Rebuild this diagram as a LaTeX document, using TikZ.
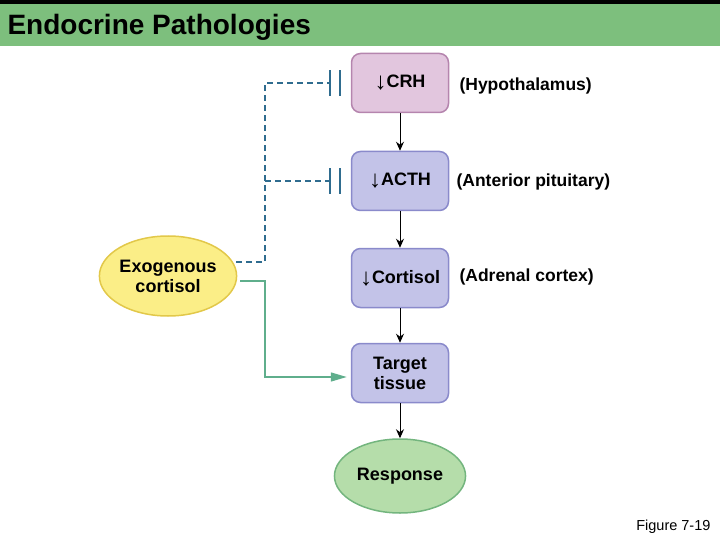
\documentclass[tikz,border=0pt]{standalone}
\usepackage{fontspec}
\setmainfont{Liberation Sans}
\usetikzlibrary{arrows.meta,shapes.geometric}
\definecolor{hdr}{HTML}{7DBF7D}
\definecolor{pinkf}{HTML}{E2C6DE}\definecolor{pinkd}{HTML}{B585AE}
\definecolor{bluef}{HTML}{C3C3E8}\definecolor{blued}{HTML}{8A8ACB}
\definecolor{yelf}{HTML}{FBEE87}\definecolor{yeld}{HTML}{E2C84A}
\definecolor{grnf}{HTML}{B5DDAA}\definecolor{grnd}{HTML}{73B57E}
\definecolor{dsh}{HTML}{2F6C8F}\definecolor{tealc}{HTML}{5FAE8C}
\newcommand{\dn}{\raisebox{-2pt}{\fontsize{24}{24}\selectfont ↓}}
\begin{document}
\begin{tikzpicture}[x=1pt,y=-1pt,
 box/.style={draw=blued,fill=bluef,line width=1.5pt,rounded corners=9pt,minimum width=97pt,minimum height=59pt,font=\bfseries\fontsize{18}{20}\selectfont,align=center,inner xsep=1pt},
 lab/.style={anchor=west,font=\bfseries\fontsize{17.5}{20}\selectfont},
 flow/.style={-{Stealth[length=9pt,width=8pt]},line width=1pt}]
\useasboundingbox (0,0) rectangle (720,540);
\fill[hdr] (0,0) rectangle (720,46);
\fill[black] (0,0) rectangle (720,4);
\node[anchor=west,font=\bfseries\fontsize{28}{30}\selectfont] (title) at (4,27) {Endocrine Pathologies};
\node[box,draw=pinkd,fill=pinkf] (crh) at (400,83) {\dn CRH};
\node[box] (acth) at (400,181) {\dn ACTH};
\node[box] (cort) at (400,278) {\dn Cortisol};
\node[box] (tt) at (400,373) {Target\\tissue};
\node[ellipse,draw=grnd,fill=grnf,line width=1.5pt,minimum width=114pt,minimum height=74pt,font=\bfseries\fontsize{18}{20}\selectfont] (resp) at (400,476) {Response};
\node[ellipse,draw=yeld,fill=yelf,line width=1.5pt,minimum width=124pt,minimum height=80pt,inner sep=0pt,font=\bfseries\fontsize{18}{20}\selectfont,align=center] (exo) at (168,276) {Exogenous\\cortisol};
\node[lab] (l1) at (456,86) {(Hypothalamus)};
\node[lab] (l2) at (453,182) {(Anterior pituitary)};
\node[lab] (l3) at (456,277) {(Adrenal cortex)};
\node[anchor=east,font=\fontsize{14.5}{16}\selectfont] (fig) at (714,527) {Figure 7-19};
\draw[flow] (crh) -- (acth);
\draw[flow] (acth) -- (cort);
\draw[flow] (cort) -- (tt);
\draw[flow] (tt) -- (resp);
\coordinate (b1) at (330,83); \coordinate (b2) at (330,181);
\coordinate (s) at (236,262);
\draw[dsh,line width=1.5pt,dash pattern=on 6pt off 4pt] (s) -- (265,262) -- (265,83) -- (b1) (265,181) -- (b2);
\foreach \b in {b1,b2}{
 \draw[dsh,line width=2pt] ([yshift=-13]\b) -- ([yshift=13]\b);
 \draw[dsh,line width=2pt] ([xshift=10,yshift=-13]\b) -- ([xshift=10,yshift=13]\b);}
\coordinate (g0) at (240,281);
\coordinate (g) at (265,377);
\draw[tealc,line width=1.5pt,-{Triangle[length=16pt,width=9pt]}] (g0) -- (265,281) -- (g) -- ([xshift=-4]tt.west |- g);
\end{tikzpicture}
\end{document}
